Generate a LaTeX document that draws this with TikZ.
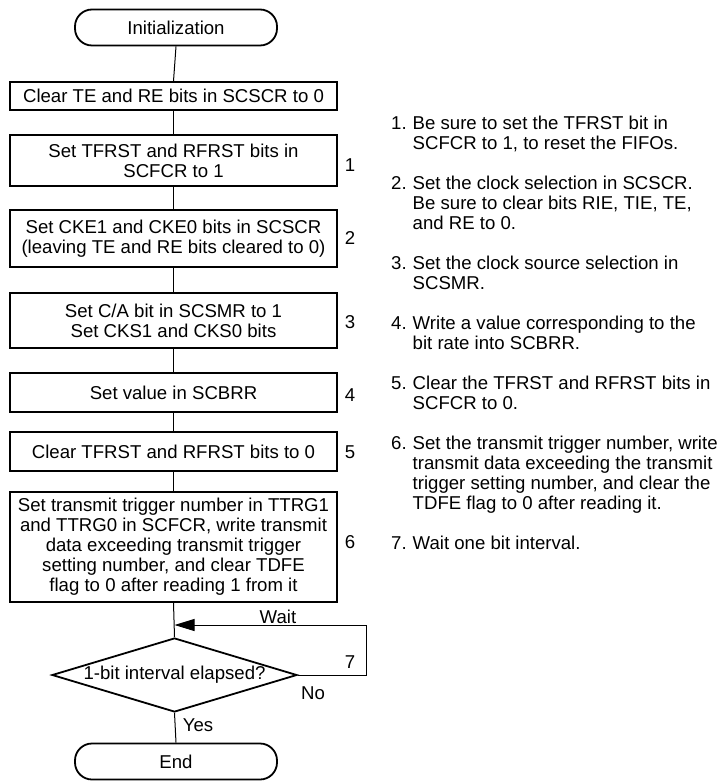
\documentclass[tikz,border=0pt]{standalone}
\usepackage{fontspec}
\setmainfont{Liberation Sans}
\usetikzlibrary{shapes.geometric,arrows.meta}
\newcommand{\chartfont}{\fontsize{18.6pt}{20pt}\selectfont}
\tikzset{
  term/.style={draw, line width=1.8pt, rounded corners=17pt, minimum width=202pt, minimum height=36pt, inner sep=0pt, font=\chartfont},
  proc/.style={draw, line width=1.8pt, minimum width=327pt, align=center, inner sep=0pt, font=\chartfont},
  decide/.style={draw, line width=1.8pt, diamond, aspect=3.3, minimum width=245pt, minimum height=74pt, inner sep=0pt, font=\chartfont},
  flow/.style={line width=1pt},
  lbl/.style={inner sep=0pt, font=\chartfont},
  note/.style={inner sep=0pt, anchor=north west, font=\chartfont},
}
\newcommand{\noteitem}[2]{\begin{tabular}{@{}l@{\hspace{6pt}}l@{}}#1 & #2\end{tabular}}

\begin{document}
\begin{tikzpicture}[x=1pt,y=-1pt]
\useasboundingbox (0,0) rectangle (722,783);
% Draw the flow chart
\node[term] (init) at (176,27.5) {Initialization};
\node[proc, minimum height=28pt] (clr) at (173.5,96) {Clear TE and RE bits in SCSCR to 0};
\node[proc, minimum height=51pt] (rst) at (173.5,160.5) {Set TFRST and RFRST bits in\\SCFCR to 1};
\node[proc, minimum height=57pt] (cke) at (173.5,238.5) {Set CKE1 and CKE0 bits in SCSCR\\(leaving TE and RE bits cleared to 0)};
\node[proc, minimum height=55pt] (smr) at (173.5,320.5) {Set C/A bit in SCSMR to 1\\Set CKS1 and CKS0 bits};
\node[proc, minimum height=39pt] (brr) at (173.5,392.5) {Set value in SCBRR};
\node[proc, minimum height=39pt] (frst) at (173.5,451.5) {Clear TFRST and RFRST bits to 0};
\node[proc, minimum height=110pt] (trg) at (173.5,547) {Set transmit trigger number in TTRG1\\and TTRG0 in SCFCR, write transmit\\data exceeding transmit trigger\\setting number, and clear TDFE\\flag to 0 after reading 1 from it};
\node[decide] (dec) at (174.5,675) {\makebox[0pt]{1-bit interval elapsed?}};
\node[term] (end) at (176,761.5) {End};
% Step numbers
\node[lbl] (s1) at (350,165) {1};
\node[lbl] (s2) at (350,238) {2};
\node[lbl] (s3) at (350,322) {3};
\node[lbl] (s4) at (350,395) {4};
\node[lbl] (s5) at (350,452) {5};
\node[lbl] (s6) at (350,542) {6};
\node[lbl] (s7) at (350,662) {7};
\node[lbl] (wait) at (278,617) {Wait};
\node[lbl] (no) at (313,693) {No};
\node[lbl] (yes) at (198,725) {Yes};
% Connectors
\draw[flow] (init.south) -- (clr.north);
\draw[flow] (clr.south) -- (rst.north);
\draw[flow] (rst.south) -- (cke.north);
\draw[flow] (cke.south) -- (smr.north);
\draw[flow] (smr.south) -- (brr.north);
\draw[flow] (brr.south) -- (frst.north);
\draw[flow] (frst.south) -- (trg.north);
\draw[flow] (trg.south) -- (dec.north);
\draw[flow] (dec.south) -- (end.north);
\coordinate (join) at (dec.north |- 0,625);
\draw[flow, -{Triangle[length=20pt,width=12pt]}] (dec.east) -- ++(69,0) |- (join);
% Notes
\node[note] (t1) at (391,115) {\noteitem{1.}{Be sure to set the TFRST bit in\\&SCFCR to 1, to reset the FIFOs.}};
\node[note] (t2) at (391,175) {\noteitem{2.}{Set the clock selection in SCSCR.\\&Be sure to clear bits RIE, TIE, TE,\\&and RE to 0.}};
\node[note] (t3) at (391,255) {\noteitem{3.}{Set the clock source selection in\\&SCSMR.}};
\node[note] (t4) at (391,315) {\noteitem{4.}{Write a value corresponding to the\\&bit rate into SCBRR.}};
\node[note] (t5) at (391,375) {\noteitem{5.}{Clear the TFRST and RFRST bits in\\&SCFCR to 0.}};
\node[note] (t6) at (391,435) {\noteitem{6.}{Set the transmit trigger number, write\\&transmit data exceeding the transmit\\&trigger setting number, and clear the\\&TDFE flag to 0 after reading it.}};
\node[note] (t7) at (391,535) {\noteitem{7.}{Wait one bit interval.}};
\end{tikzpicture}
\end{document}
